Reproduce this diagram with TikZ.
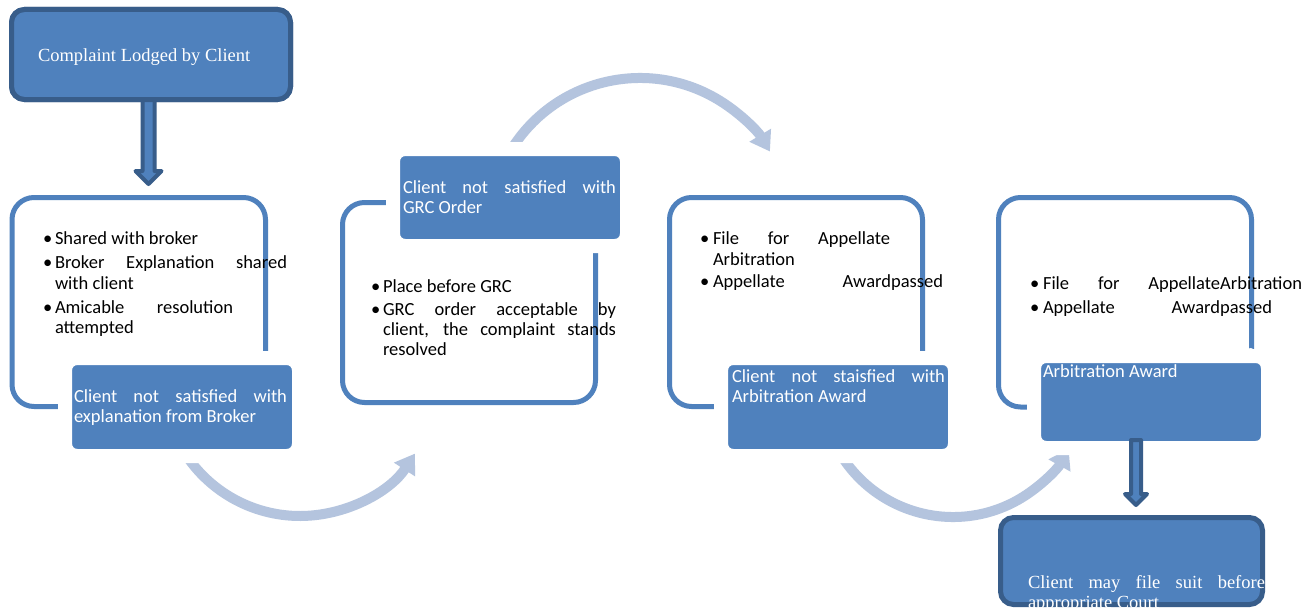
\documentclass[tikz,border=0pt]{standalone}
\usepackage{fontspec}
\setmainfont{Liberation Serif}
\newfontfamily\carl{Carlito}
\usetikzlibrary{arrows.meta,calc}
\definecolor{ob}{HTML}{4F81BD}
\definecolor{obd}{HTML}{385D8A}
\definecolor{lb}{HTML}{B4C4DE}
\newcommand\justline[2]{\makebox[#1pt][s]{#2}}
\begin{document}
\begin{tikzpicture}[x=1pt,y=-1pt,
 lt/.style={anchor=base west,inner sep=0pt,outer sep=0pt,font=\carl\fontsize{18.5}{21}\selectfont,text=black},
 wt/.style={lt,text=white},
 st/.style={anchor=base west,inner sep=0pt,outer sep=0pt,font=\fontsize{18.5}{21}\selectfont,text=white},
 outbox/.style={draw=ob,line width=5pt,fill=white,rounded corners=22pt,anchor=north west,inner sep=0pt,outer sep=0pt},
 bluebox/.style={fill=ob,draw=white,line width=14pt,rounded corners=12pt,anchor=north west,inner sep=0pt,outer sep=0pt},
 darkbox/.style={fill=ob,draw=obd,line width=5pt,rounded corners=13pt,anchor=north west,inner sep=0pt,outer sep=0pt},
 carrow/.style={draw=lb,line width=10pt,-{Triangle[length=19pt,width=24pt]}},
 barrow/.style={fill=ob,draw=obd,line width=4pt,line join=round}
]
\useasboundingbox[fill=white] (0,0) rectangle (1315,610);
% outline boxes
\node[outbox,minimum width=253.5pt,minimum height=209pt] (o1) at (12,197.5) {};
\node[outbox,minimum width=253pt,minimum height=200pt] (o2) at (342.5,202.5) {};
\node[outbox,minimum width=253pt,minimum height=209pt] (o3) at (669.5,197.5) {};
\node[outbox,minimum width=253pt,minimum height=209.5pt] (o4) at (998.5,197.5) {};
% curved arrows
\coordinate (a1c) at (300,379);
\coordinate (a2c) at (640,229.6);
\coordinate (a3c) at (953,384.8);
\draw[carrow] (a1c) ++(146:137) arc[start angle=146,end angle=33,radius=137];
\draw[carrow] (a2c) ++(212:151.6) arc[start angle=212,end angle=329,radius=151.6];
\draw[carrow] (a3c) ++(148:132.2) arc[start angle=148,end angle=29,radius=132.2];
% blue boxes
\node[bluebox,minimum width=234pt,minimum height=98pt] (b1) at (65,358) {};
\node[bluebox,minimum width=234pt,minimum height=97pt] (b2) at (393,149) {};
\node[bluebox,minimum width=234pt,minimum height=98pt] (b3) at (721,358) {};
\node[bluebox,minimum width=234pt,minimum height=92pt] (b4) at (1034,356) {};
% box 1 texts
\node[lt] (b1d1) at (43,244) {•};
\node[lt] (b1t1) at (55,244) {Shared with broker};
\node[lt] (b1d2) at (43,268) {•};
\node[lt] (b1t2) at (55,268) {\justline{232}{Broker Explanation shared}};
\node[lt] (b1t3) at (55,289) {with client};
\node[lt] (b1d3) at (43,313) {•};
\node[lt] (b1t4) at (55,313) {\justline{178}{Amicable resolution}};
\node[lt] (b1t5) at (55,333) {attempted};
\node[wt] (c1a) at (74,402) {\justline{213}{Client not satisfied with}};
\node[wt] (c1b) at (74,422) {explanation from Broker};
% box 2 texts
\node[lt] (b2d1) at (371,292) {•};
\node[lt] (b2t1) at (383,292) {Place before GRC};
\node[lt] (b2d2) at (371,315) {•};
\node[lt] (b2t2) at (383,315) {\justline{233}{GRC order acceptable by}};
\node[lt] (b2t3) at (383,335) {\justline{233}{client, the complaint stands}};
\node[lt] (b2t4) at (383,355) {resolved};
\node[wt] (c2a) at (403,193) {\justline{213}{Client not satisfied with}};
\node[wt] (c2b) at (403,213) {GRC Order};
% box 3 texts
\node[lt] (b3d1) at (700,244) {•};
\node[lt] (b3t1) at (713,244) {\justline{177}{File for Appellate}};
\node[lt] (b3t2) at (713,265) {Arbitration};
\node[lt] (b3d2) at (700,287) {•};
\node[lt] (b3t3) at (713,287) {\justline{230}{Appellate Awardpassed}};
\node[wt] (c3a) at (732,382) {\justline{213}{Client not staisfied with}};
\node[wt] (c3b) at (732,402) {Arbitration Award};
% box 4 texts
\node[lt] (b4d1) at (1030,289) {•};
\node[lt] (b4t1) at (1043,289) {\justline{259}{File for AppellateArbitration}};
\node[lt] (b4d2) at (1030,313) {•};
\node[lt] (b4t2) at (1043,313) {\justline{229}{Appellate Awardpassed}};
\node[wt] (c4a) at (1043,357) {\justline{212}{Client not satisfied with}};
\node[wt] (c4b) at (1043,377) {Arbitration Award};
% top box and its arrow
\node[darkbox,minimum width=279pt,minimum height=90pt] (top) at (11.5,9.5) {};
\draw[barrow] ($(top.south)+(-8.5,0)$) -- ++(0,71.5) -- ++(-7,0) -- ++(13,13) -- ++(13,-13) -- ++(-7,0) -- ++(0,-71.5) -- cycle;
\node[darkbox,minimum width=279pt,minimum height=90pt] (top) at (11.5,9.5) {};
\node[st] (toptext) at (38,62) {Complaint Lodged by Client};
% bottom arrow and court box
\draw[barrow] ($(b4.south)+(-20,-8)$) -- ++(0,54) -- ++(-6,0) -- ++(11,11) -- ++(11,-11) -- ++(-6,0) -- ++(0,-54) -- cycle;
\node[darkbox,minimum width=262pt,minimum height=87pt] (court) at (1000.5,517.5) {};
\node[st] (ct1) at (1028,588) {\justline{237}{Client may file suit before}};
\node[st] (ct2) at (1028,608) {appropriate Court};
\end{tikzpicture}
\end{document}
